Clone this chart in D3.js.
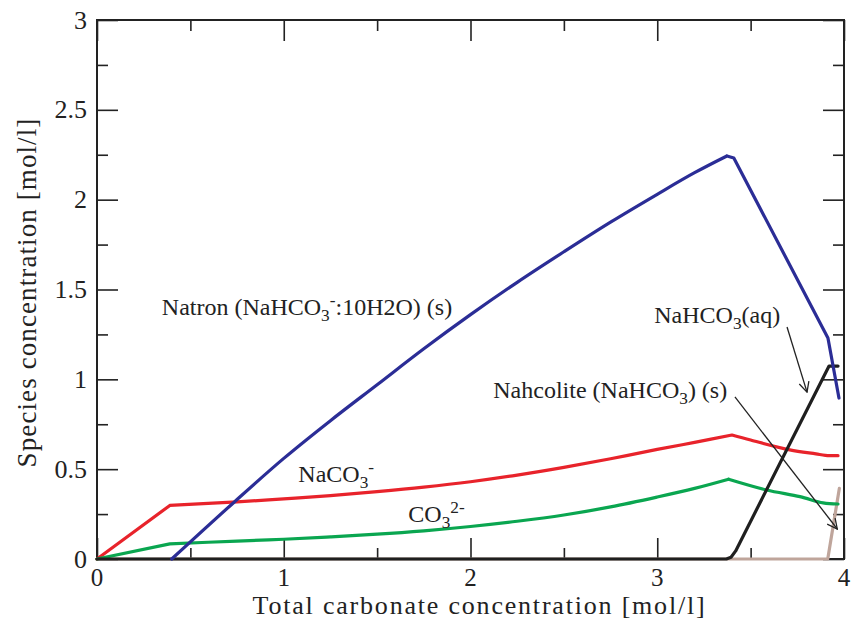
<!DOCTYPE html>
<html>
<head>
<meta charset="utf-8">
<script src="https://cdn.jsdelivr.net/npm/d3@7"></script>
<style>
  html, body { margin: 0; padding: 0; background: #fff; }
</style>
</head>
<body>
<svg id="chart" width="854" height="630"></svg>
<script>
// Species concentrations [mol/l] versus total carbonate concentration [mol/l]
const natronX = [0.40, 0.737, 1.0, 1.25, 1.5, 1.75, 2.0, 2.25, 2.5, 2.75, 3.0, 3.2, 3.373, 3.41, 3.914, 3.973];
const natronY = [0.0, 0.319, 0.56, 0.77, 0.97, 1.17, 1.36, 1.54, 1.71, 1.875, 2.03, 2.15, 2.243, 2.232, 1.23, 0.896];

const naco3X = [0, 0.39, 0.75, 1.0, 1.25, 1.5, 1.75, 2.0, 2.25, 2.5, 2.75, 3.0, 3.2, 3.40, 3.50, 3.71, 3.85, 3.90, 3.968];
const naco3Y = [0, 0.298, 0.318, 0.335, 0.353, 0.375, 0.40, 0.43, 0.467, 0.51, 0.558, 0.61, 0.649, 0.690, 0.662, 0.607, 0.585, 0.577, 0.575];

const co3X = [0, 0.39, 0.75, 1.0, 1.25, 1.5, 1.75, 2.0, 2.25, 2.5, 2.75, 3.0, 3.2, 3.382, 3.586, 3.764, 3.888, 3.968];
const co3Y = [0, 0.084, 0.100, 0.110, 0.123, 0.138, 0.157, 0.181, 0.210, 0.245, 0.29, 0.345, 0.393, 0.444, 0.384, 0.347, 0.312, 0.306];

const nahco3aqX = [0, 3.37, 3.395, 3.42, 3.92, 3.968];
const nahco3aqY = [0, 0, 0.01, 0.045, 1.074, 1.074];

const nahcoliteX = [0, 3.913, 3.975];
const nahcoliteY = [0, 0, 0.393];

const xTickValues = [0, 1, 2, 3, 4];
const xMinorValues = [0.5, 1.5, 2.5, 3.5];
const yTickValues = [0, 0.5, 1, 1.5, 2, 2.5, 3];
const yMinorValues = [0.25, 0.75, 1.25, 1.75, 2.25, 2.75];

const xTitle = "Total carbonate concentration [mol/l]";
const yTitle = "Species concentration [mol/l]";

const FONT = "'Liberation Serif', 'Times New Roman', 'DejaVu Serif', serif";
const TEXT = "#222";

const svg = d3.select("#chart").attr("font-family", FONT);
const W = 854, H = 630;
const margin = { left: 97, right: 10, top: 20, bottom: 71 };
const x0 = margin.left, x1 = W - margin.right;
const y0 = H - margin.bottom, y1 = margin.top;

const x = d3.scaleLinear().domain([0, 4]).range([x0, x1]);
const y = d3.scaleLinear().domain([0, 3]).range([y0, y1]);

const axisColor = "#222";
const majorLen = 21, minorLen = 11;

// Frame
svg.append("rect")
  .attr("x", x0).attr("y", y1)
  .attr("width", x1 - x0).attr("height", y0 - y1)
  .attr("fill", "none").attr("stroke", axisColor).attr("stroke-width", 2);

// Inward ticks on all four sides
function ticks(axisGen, values, len, transform) {
  const g = svg.append("g").attr("transform", transform)
    .call(axisGen.tickValues(values).tickSize(len).tickFormat(""));
  g.select(".domain").remove();
  g.selectAll(".tick line").attr("stroke", axisColor).attr("stroke-width", 1.6);
  return g;
}
ticks(d3.axisTop(x), xTickValues, majorLen, `translate(0,${y0})`);
ticks(d3.axisTop(x), xMinorValues, minorLen, `translate(0,${y0})`);
ticks(d3.axisBottom(x), xTickValues, majorLen, `translate(0,${y1})`);
ticks(d3.axisBottom(x), xMinorValues, minorLen, `translate(0,${y1})`);
ticks(d3.axisRight(y), yTickValues, majorLen, `translate(${x0},0)`);
ticks(d3.axisRight(y), yMinorValues, minorLen, `translate(${x0},0)`);
ticks(d3.axisLeft(y), yTickValues, majorLen, `translate(${x1},0)`);
ticks(d3.axisLeft(y), yMinorValues, minorLen, `translate(${x1},0)`);

// Tick labels
svg.append("g").selectAll("text").data(xTickValues).join("text")
  .attr("x", d => x(d)).attr("y", y0 + 27)
  .attr("text-anchor", "middle").attr("font-size", 25)
  .attr("font-family", FONT).attr("fill", TEXT)
  .text(d => d3.format("")(d));
svg.append("g").selectAll("text").data(yTickValues).join("text")
  .attr("x", x0 - 10).attr("y", d => y(d))
  .attr("dy", "0.33em")
  .attr("text-anchor", "end").attr("font-size", 26)
  .attr("font-family", FONT).attr("fill", TEXT)
  .text(d => d3.format("")(d));

// Axis titles
svg.append("text")
  .attr("x", (x0 + x1) / 2 + 9).attr("y", y0 + 55)
  .attr("text-anchor", "middle").attr("font-size", 26)
  .attr("letter-spacing", 1.8)
  .attr("font-family", FONT).attr("fill", TEXT)
  .text(xTitle);
svg.append("text")
  .attr("transform", `translate(36,${(y0 + y1) / 2 + 3}) rotate(-90)`)
  .attr("text-anchor", "middle").attr("font-size", 27)
  .attr("letter-spacing", 1.1)
  .attr("font-family", FONT).attr("fill", TEXT)
  .text(yTitle);

// Curves: each series is drawn piecewise so that the sharp breaks stay sharp
const zip = (a, b) => a.map((v, i) => [v, b[i]]);
const gen = c => d3.line().x(d => x(d[0])).y(d => y(d[1])).curve(c);
const LIN = d3.curveLinear, SM = d3.curveCatmullRom.alpha(0.5);

function piecewise(xs, ys, pieces) {
  const pts = zip(xs, ys);
  return pieces.map(([a, b, c]) => gen(c)(pts.slice(a, b + 1))).join(" ");
}

const series = [
  { d: piecewise(nahcoliteX, nahcoliteY, [[0, 2, LIN]]), color: "#bfa59b" },
  { d: piecewise(naco3X, naco3Y, [[0, 1, LIN], [1, 13, SM], [13, 18, SM]]), color: "#e8232b" },
  { d: piecewise(co3X, co3Y, [[0, 1, LIN], [1, 13, SM], [13, 17, SM]]), color: "#0aa650" },
  { d: piecewise(nahco3aqX, nahco3aqY, [[0, 5, LIN]]), color: "#1f1f1f" },
  { d: piecewise(natronX, natronY, [[0, 12, SM], [12, 15, LIN]]), color: "#2b2d96" }
];
svg.append("g").selectAll("path").data(series).join("path")
  .attr("d", s => s.d)
  .attr("fill", "none")
  .attr("stroke", s => s.color)
  .attr("stroke-width", 3.2)
  .attr("stroke-linejoin", "round")
  .attr("stroke-linecap", "round");

// Curve labels
function label(px, py, parts, size) {
  const t = svg.append("text").attr("x", x(px)).attr("y", y(py))
    .attr("font-size", size).attr("font-family", FONT).attr("fill", TEXT);
  let shift = 0;
  parts.forEach(p => {
    const ts = t.append("tspan").text(p.t);
    const target = p.sub ? 6 : p.sup ? -9 : 0;
    if (target !== shift) { ts.attr("dy", target - shift); shift = target; }
    if (p.sub || p.sup) ts.attr("font-size", size * 0.72);
  });
  return t;
}
label(0.347, 1.358, [
  { t: "Natron (NaHCO" }, { t: "3", sub: true }, { t: "-", sup: true }, { t: ":10H2O) (s)" }
], 24);
label(1.078, 0.430, [
  { t: "NaCO" }, { t: "3", sub: true }, { t: "-", sup: true }
], 24);
label(1.667, 0.208, [
  { t: "CO" }, { t: "3", sub: true }, { t: "2-", sup: true }
], 24);
label(2.984, 1.312, [
  { t: "NaHCO" }, { t: "3", sub: true }, { t: "(aq)" }
], 24);
label(2.122, 0.894, [
  { t: "Nahcolite (NaHCO" }, { t: "3", sub: true }, { t: ") (s)" }
], 24);

// Annotation arrows
svg.append("defs").append("marker")
  .attr("id", "head").attr("viewBox", "0 0 12 12")
  .attr("refX", 11).attr("refY", 6)
  .attr("markerWidth", 12).attr("markerHeight", 12)
  .attr("markerUnits", "userSpaceOnUse")
  .attr("orient", "auto")
  .append("path").attr("d", "M1,1 L11,6 L1,11")
  .attr("fill", "none").attr("stroke", "#222").attr("stroke-width", 1.3);

const arrows = [
  { from: [3.695, 1.291], to: [3.802, 0.929] },
  { from: [3.416, 0.902], to: [3.964, 0.167] }
];
svg.append("g").selectAll("line").data(arrows).join("line")
  .attr("x1", a => x(a.from[0])).attr("y1", a => y(a.from[1]))
  .attr("x2", a => x(a.to[0])).attr("y2", a => y(a.to[1]))
  .attr("stroke", "#222").attr("stroke-width", 1.3)
  .attr("marker-end", "url(#head)");
</script>
</body>
</html>
